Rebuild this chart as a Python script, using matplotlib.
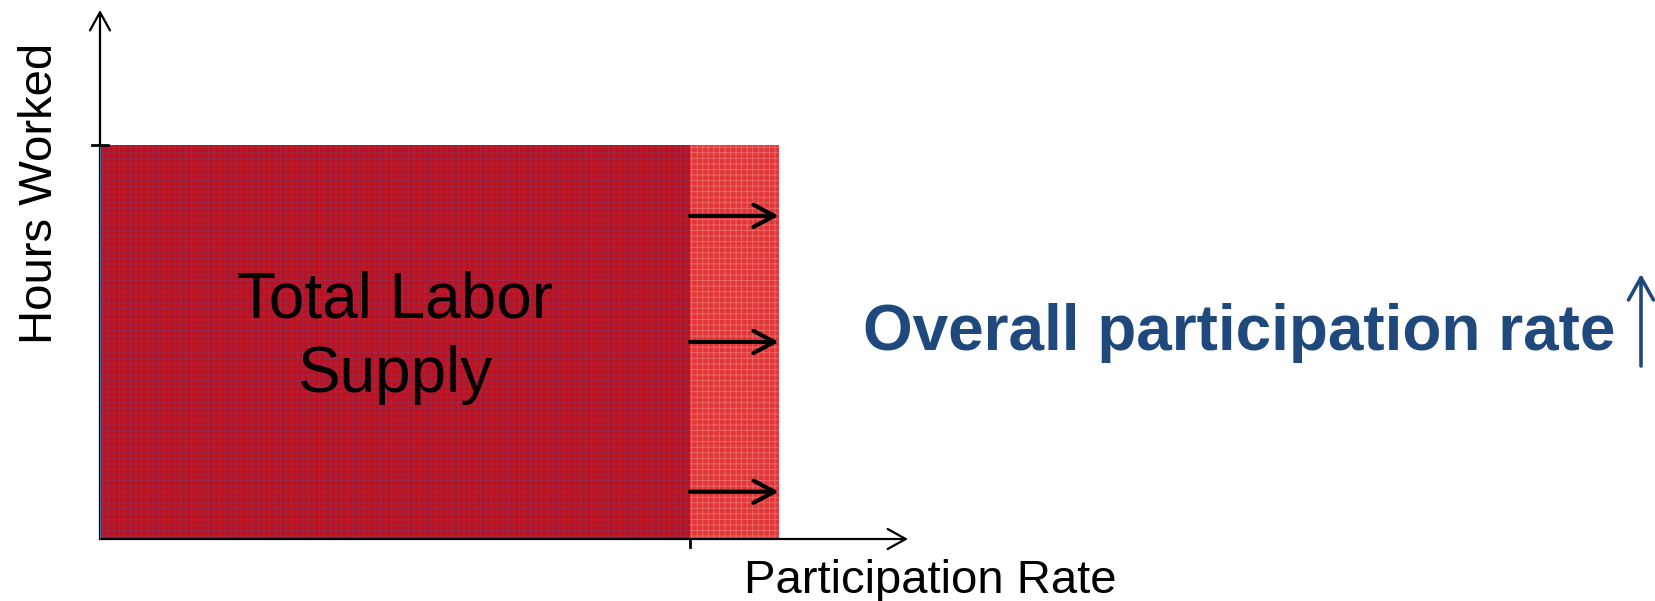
import matplotlib.pyplot as plt
from matplotlib.patches import Rectangle

# Participation rate before and after the change, and hours worked (axis units, 0-100)
rate_before = 73.0
rate_after = 84.0
hours_worked = 74.5
# heights (share of hours) where the shift arrows sit
shift_arrow_levels = [0.82, 0.50, 0.12]

x_label = 'Participation Rate'
y_label = 'Hours Worked'
area_label = 'Total Labor\nSupply'
note_label = 'Overall participation rate'

W, H = 1655, 601
plt.rcParams['font.family'] = ['Liberation Sans', 'DejaVu Sans']
plt.rcParams['hatch.linewidth'] = 0.6

fig = plt.figure(figsize=(W / 100, H / 100), dpi=100)


def fx(px):
    return px / W


def fy(py):
    return 1 - py / H


# axes box runs from the origin to the arrow tips
ax = fig.add_axes([fx(100), fy(539), fx(908) - fx(100), fy(10) - fy(539)])
ax.set_xlim(0, 100)
ax.set_ylim(0, 100)
ax.axis('off')

# original labor supply block
ax.add_patch(Rectangle((0, 0), rate_before, hours_worked, facecolor='#BC1220',
                       edgecolor='#9A2A4E', linewidth=0, hatch='+++', zorder=1))
# extra supply from higher participation
ax.add_patch(Rectangle((rate_before, 0), rate_after - rate_before, hours_worked,
                       facecolor='#E0383A', edgecolor='#F26A6A', linewidth=0,
                       hatch='+++', zorder=1))

# axes drawn as open arrows
axis_arrow = dict(arrowstyle='->,head_length=0.65,head_width=0.36', color='black',
                  lw=1.6, shrinkA=0, shrinkB=0, mutation_scale=20)
ax.annotate('', xy=(0, 100), xytext=(0, 0), arrowprops=axis_arrow, zorder=3)
ax.annotate('', xy=(100, 0), xytext=(0, 0), arrowprops=axis_arrow, zorder=3)
ax.plot([0, 0], [0, hours_worked], color='#4F6FA0', lw=1.6, zorder=4)

# tick marks at the block's top and at the old participation rate
ax.plot([-1.0, 1.0], [hours_worked, hours_worked], color='black', lw=2,
        clip_on=False, zorder=4)
ax.plot([rate_before, rate_before], [0, -1.6], color='black', lw=2,
        clip_on=False, zorder=4)

# shift arrows
shift_arrow = dict(arrowstyle='->,head_length=0.75,head_width=0.4', color='black',
                   lw=3, shrinkA=0, shrinkB=0, mutation_scale=20)
for lvl in shift_arrow_levels:
    ax.annotate('', xy=(rate_after, hours_worked * lvl),
                xytext=(rate_before, hours_worked * lvl),
                arrowprops=shift_arrow, zorder=5)

ax.text(rate_before / 2, hours_worked * 0.51, area_label, ha='center', va='center',
        fontsize=46, linespacing=1.3, color='black', zorder=6)

fig.text(fx(40), fy(193), y_label, rotation=90, ha='center', va='center', fontsize=34)
fig.text(fx(930), fy(581), x_label, ha='center', va='center', fontsize=34)

fig.text(fx(1239), fy(333), note_label, ha='center', va='center', fontsize=46,
         fontweight='bold', color='#1F497D')
ax.annotate('', xy=(fx(1641), fy(274)), xytext=(fx(1641), fy(366)),
            xycoords='figure fraction', textcoords='figure fraction',
            arrowprops=dict(arrowstyle='->,head_length=0.8,head_width=0.45',
                            color='#1F497D', lw=2.6, shrinkA=0, shrinkB=0,
                            mutation_scale=20), annotation_clip=False)

fig.savefig('out.png', dpi=100)
